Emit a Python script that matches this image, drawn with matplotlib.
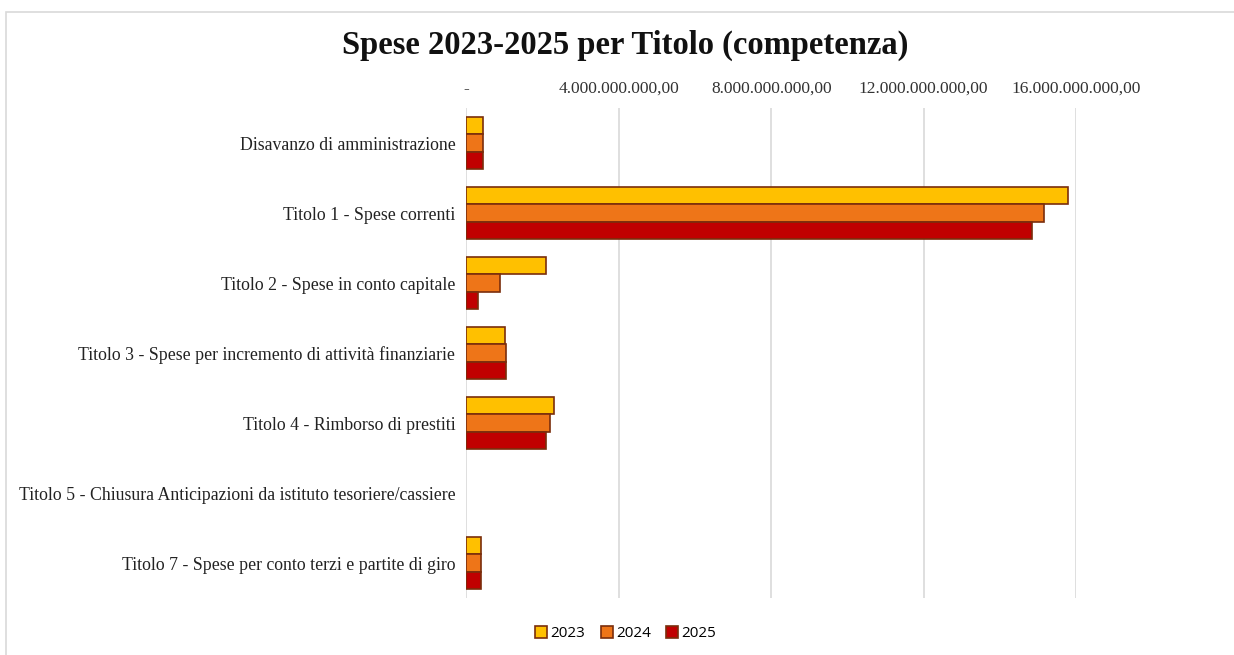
import matplotlib.pyplot as plt
import matplotlib.ticker as mticker
from matplotlib.patches import Rectangle
import numpy as np

categories = [
    "Disavanzo di amministrazione",
    "Titolo 1 - Spese correnti",
    "Titolo 2 - Spese in conto capitale",
    "Titolo 3 - Spese per incremento di attività finanziarie",
    "Titolo 4 - Rimborso di prestiti",
    "Titolo 5 - Chiusura Anticipazioni da istituto tesoriere/cassiere",
    "Titolo 7 - Spese per conto terzi e partite di giro",
]
years = ["2023", "2024", "2025"]
spese_2023 = [0.43e9, 15.79e9, 2.08e9, 1.00e9, 2.29e9, 0.0, 0.37e9]
spese_2024 = [0.43e9, 15.16e9, 0.87e9, 1.03e9, 2.18e9, 0.0, 0.37e9]
spese_2025 = [0.43e9, 14.84e9, 0.29e9, 1.05e9, 2.10e9, 0.0, 0.37e9]
x_ticks = [0, 4e9, 8e9, 12e9, 16e9]

colors = ["#FFC000", "#EE7518", "#C00000"]
edge = "#7A2E0C"
serif = ["Liberation Serif", "DejaVu Serif"]

fig = plt.figure(figsize=(12.34, 6.55), dpi=100)
ax = fig.add_axes([0.378, 0.087, 0.494, 0.748])

# --- bars ---
y = np.arange(len(categories))
h = 0.25
for i, (vals, lab) in enumerate(zip([spese_2023, spese_2024, spese_2025], years)):
    lw = [1.2 if v > 0 else 0 for v in vals]  # no outline for empty bars
    ax.barh(y + (i - 1) * h, vals, height=h, color=colors[i], edgecolor=edge,
            linewidth=lw, label=lab)

ax.set_ylim(len(categories) - 0.5, -0.5)
ax.set_xlim(0, 16e9)
ax.set_yticks(y)
ax.set_yticklabels(categories, family=serif, fontsize=12.8, color="#222222")
ax.tick_params(axis="y", length=0, pad=8)

ax.xaxis.tick_top()
ax.set_xticks(x_ticks)
ax.xaxis.set_major_formatter(mticker.FuncFormatter(
    lambda v, _: "-" if v == 0 else f"{v:,.2f}".replace(",", "X").replace(".", ",").replace("X", ".")))
for t in ax.get_xticklabels():
    t.set_family(serif)
ax.tick_params(axis="x", length=0, labelsize=12.5, labelcolor="#333333", pad=8)

ax.grid(axis="x", color="#D9D9D9", linewidth=1.2)
ax.set_axisbelow(True)
for s in ax.spines.values():
    s.set_visible(False)

fig.suptitle("Spese 2023-2025 per Titolo (competenza)", x=0.507, y=0.955,
             family=serif, fontsize=23.5, fontweight="bold", color="#111111")

leg = fig.legend(loc="lower center", bbox_to_anchor=(0.507, 0.0), ncol=3, frameon=False,
                 handlelength=0.8, handleheight=0.8, handletextpad=0.2,
                 columnspacing=1.0, prop={"family": ["Open Sans", "DejaVu Sans"], "size": 11})

# chart border
fig.patches.append(Rectangle((6 / 1234, -0.1), 1.2, 1.1 - 12 / 655, transform=fig.transFigure,
                             fill=False, edgecolor="#D9D9D9", linewidth=1.2))

fig.savefig("out.png", dpi=100)
